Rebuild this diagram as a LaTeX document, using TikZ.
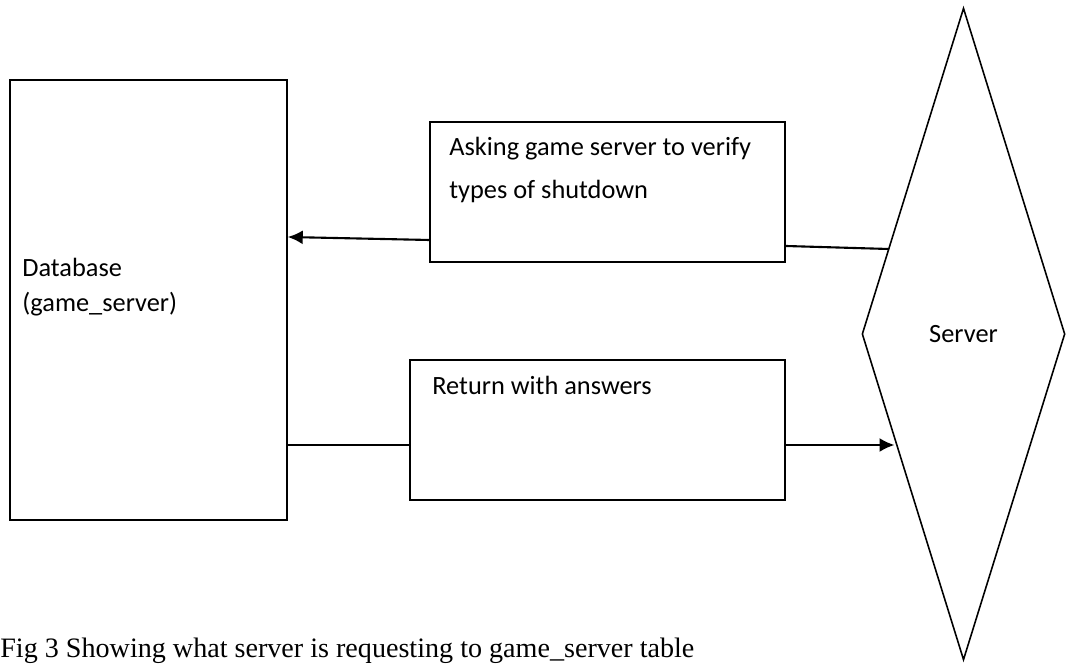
\documentclass[tikz,border=0pt]{standalone}
\usepackage{fontspec}
\setmainfont{Liberation Serif}
\newfontfamily\boxfont{Carlito}
\usetikzlibrary{shapes.geometric, arrows.meta}

\begin{document}
\begin{tikzpicture}[x=0.02cm, y=-0.02cm,
        block/.style={draw, line width=0.9pt, inner sep=0pt},
        label/.style={anchor=west, inner sep=0pt, align=left,
                      font=\boxfont\fontsize{15}{25}\selectfont},
        arrow/.style={-{Latex[length=0.3cm, width=0.28cm]}, line width=1.2pt},
        plain/.style={line width=1.2pt},
    ]
        \useasboundingbox (0,0) rectangle (1067,665);

        % Nodes
        \node[block, minimum width=5.54cm, minimum height=8.8cm] (db) at (148.5,300) {};
        \node[block, minimum width=7.1cm, minimum height=2.8cm] (ask) at (607.5,192) {};
        \node[block, minimum width=7.5cm, minimum height=2.8cm] (ret) at (597.5,430) {};
        \node[block, diamond, minimum width=4.06cm, minimum height=13.04cm,
              font=\boxfont\fontsize{15}{18}\selectfont] (srv) at (963.5,334) {Server};

        % Texts
        \node[label] (dbname) at (22,267) {Database};
        \node[label] (dbtable) at (22,304) {(game\_server)};
        \node[label] (asktext) at (449,170) {Asking game server to verify\\types of shutdown};
        \node[label] (rettext) at (432,385) {Return with answers};
        \node[anchor=south west, inner sep=0pt, font=\fontsize{16}{19}\selectfont]
              (caption) at (0,664) {Fig 3 Showing what server is requesting to game\_server table};

        % Arrows
        \draw[arrow] ([yshift=-0.96cm]ask.west) -- ([yshift=-0.9cm]ask.west -| db.east);
        \draw[plain] ([yshift=-1.08cm]ask.east) -- ([yshift=-1.14cm]ask.east -| srv.131);
        \draw[plain] (db.east |- 0,445) -- (ret.west |- 0,445);
        \draw[arrow] (ret.east |- 0,445) -- (srv.237 |- 0,445);
    \end{tikzpicture}
\end{document}
